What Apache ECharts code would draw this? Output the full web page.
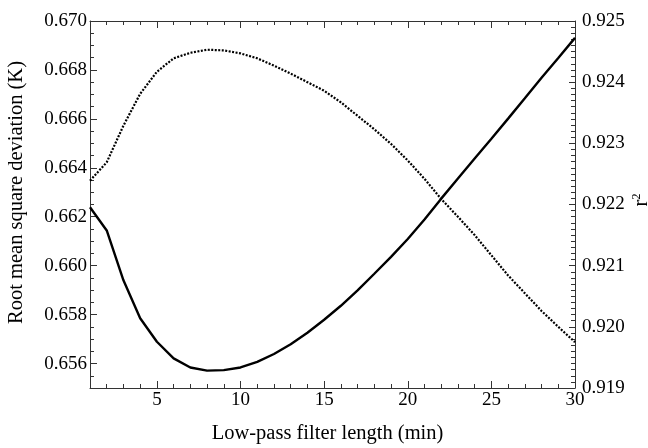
<!DOCTYPE html>
<html>
<head>
<meta charset="utf-8">
<script src="https://cdn.jsdelivr.net/npm/echarts@6/dist/echarts.min.js"></script>
<style>
  html, body { margin: 0; padding: 0; background: #fff; }
  #chart { width: 648px; height: 448px; }
</style>
</head>
<body>
<div id="chart"></div>
<script>
// filter length in minutes
var filterLength = [1, 2, 3, 4, 5, 6, 7, 8, 9, 10, 11, 12, 13, 14, 15,
                    16, 17, 18, 19, 20, 21, 22, 23, 24, 25, 26, 27, 28, 29, 30];
// root mean square deviation (K), left axis, solid line
var rmsd = [0.66239, 0.66144, 0.65940, 0.65785, 0.65689, 0.65621, 0.65584, 0.65571, 0.65573, 0.65584,
            0.65607, 0.65639, 0.65679, 0.65726, 0.65779, 0.65836, 0.65899, 0.65967, 0.66036, 0.66109,
            0.66189, 0.66274, 0.66356, 0.66438, 0.66519, 0.66601, 0.66684, 0.66768, 0.66849, 0.66931];
// r^2, right axis, dotted line
var rsq = [0.92239, 0.92269, 0.92329, 0.92381, 0.92417, 0.92439, 0.92448, 0.92453, 0.92452, 0.92447,
           0.92439, 0.92427, 0.92414, 0.92400, 0.92386, 0.92367, 0.92345, 0.92323, 0.92299, 0.92272,
           0.92242, 0.92209, 0.92180, 0.92150, 0.92117, 0.92084, 0.92055, 0.92026, 0.92000, 0.91975];

// tick positions
var xMajor = [5, 10, 15, 20, 25, 30];
var xMinor = filterLength;
var leftMajor = [0.656, 0.658, 0.660, 0.662, 0.664, 0.666, 0.668, 0.670];
var leftMinor = [];
for (var i = 0; i <= 30; i++) leftMinor.push(+(0.655 + i * 0.0005).toFixed(4));
var rightMajor = [0.919, 0.920, 0.921, 0.922, 0.923, 0.924, 0.925];
var rightMinor = [];
for (var j = 0; j <= 60; j++) rightMinor.push(+(0.919 + j * 0.0001).toFixed(4));

var font = '"Liberation Serif", "DejaVu Serif", serif';
var axisColor = '#333';
var tickFont = 19;
var nameFont = 20.5;

function xAx(pos, ticks, len, showLine, showLabel) {
  return {
    type: 'value', position: pos, min: 1, max: 30,
    axisLine: { show: showLine, lineStyle: { color: axisColor, width: 1 } },
    axisTick: { show: true, inside: true, length: len, customValues: ticks, lineStyle: { color: axisColor } },
    axisLabel: { show: showLabel, customValues: xMajor, margin: 3, fontFamily: font, fontSize: tickFont, color: '#000' },
    splitLine: { show: false }
  };
}

function yAx(pos, min, max, ticks, len, showLine, showLabel, extra) {
  var a = {
    type: 'value', position: pos, min: min, max: max,
    axisLine: { show: showLine, lineStyle: { color: axisColor, width: 1 } },
    axisTick: { show: true, inside: true, length: len, customValues: ticks, lineStyle: { color: axisColor } },
    axisLabel: { show: showLabel, customValues: pos === 'left' ? leftMajor : rightMajor,
                 margin: pos === 'left' ? 3 : 7, fontFamily: font, fontSize: tickFont, color: '#000',
                 formatter: function (v) { return v.toFixed(3); } },
    splitLine: { show: false }
  };
  return Object.assign(a, extra || {});
}

var option = {
  animation: false,
  backgroundColor: '#fff',
  grid: { left: 90, right: 73, top: 21, bottom: 60, outerBoundsMode: 'none' },
  xAxis: [
    Object.assign(xAx('bottom', xMinor, 4, true, true), {
      name: 'Low-pass filter length (min)', nameLocation: 'middle', nameGap: 35, nameMoveOverlap: false,
      nameTextStyle: { fontFamily: font, fontSize: nameFont, color: '#000', padding: [0, 10, 0, 0] }
    }),
    xAx('bottom', xMajor, 7, false, false),
    xAx('top', xMinor, 4, true, false),
    xAx('top', xMajor, 7, false, false)
  ],
  yAxis: [
    yAx('left', 0.655, 0.670, leftMajor, 7, true, true, {
      name: 'Root mean square deviation (K)', nameLocation: 'middle', nameGap: 63, nameRotate: 90, nameMoveOverlap: false,
      nameTextStyle: { fontFamily: font, fontSize: nameFont, color: '#000', padding: [0, 0, 0, 24] }
    }),
    yAx('right', 0.919, 0.925, rightMajor, 6, true, true, {
      name: 'r{sup|2}', nameLocation: 'middle', nameGap: 56, nameRotate: 90, nameMoveOverlap: false,
      nameTextStyle: { fontFamily: font, fontSize: nameFont, color: '#000', padding: [0, 0, 0, 9],
                       rich: { sup: { fontFamily: font, fontSize: 12, color: '#000', verticalAlign: 'top', padding: [0, 0, 8, 0] } } }
    }),
    yAx('left', 0.655, 0.670, leftMinor, 4, false, false),
    yAx('right', 0.919, 0.925, rightMinor, 4, false, false)
  ],
  series: [
    {
      name: 'rmsd', type: 'line', xAxisIndex: 0, yAxisIndex: 0,
      data: filterLength.map(function (x, k) { return [x, rmsd[k]]; }),
      showSymbol: false, symbol: 'none',
      lineStyle: { color: '#000', width: 2.4 }
    },
    {
      name: 'r2', type: 'line', xAxisIndex: 0, yAxisIndex: 1,
      data: filterLength.map(function (x, k) { return [x, rsq[k]]; }),
      showSymbol: false, symbol: 'none',
      lineStyle: { color: '#000', width: 2.2, type: [2, 1.5] }
    }
  ]
};

var myChart = echarts.init(document.getElementById('chart'));
myChart.setOption(option);
</script>
</body>
</html>
